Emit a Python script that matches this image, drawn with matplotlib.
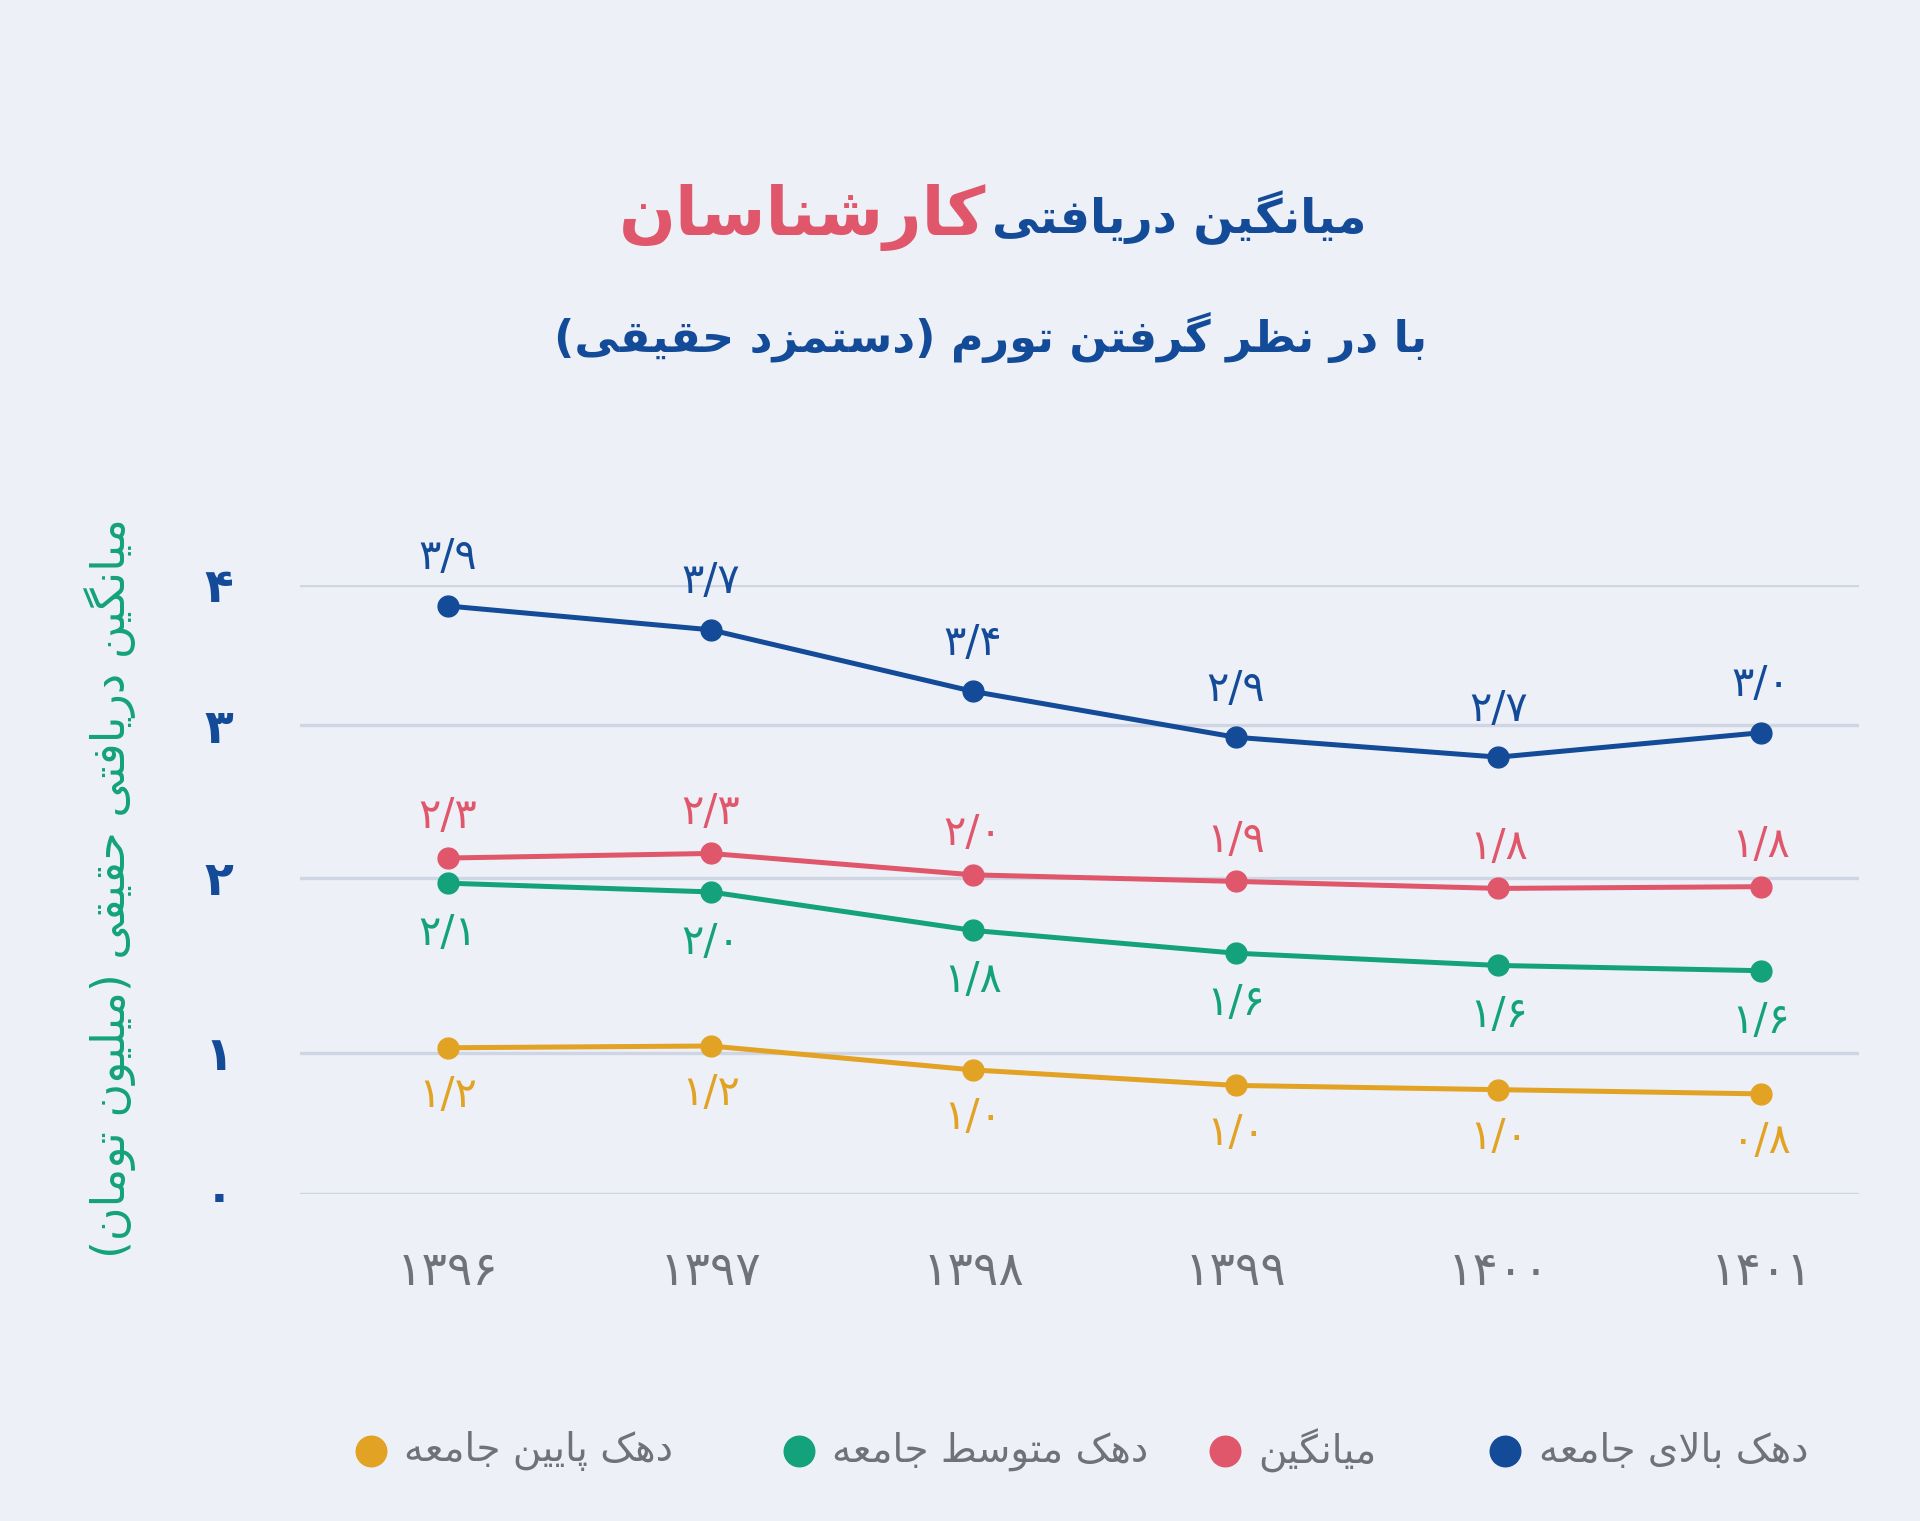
import numpy as np
import matplotlib
matplotlib.use("Agg")
import matplotlib.pyplot as plt
from matplotlib.lines import Line2D

# --- data ---
years = ['۱۳۹۶', '۱۳۹۷', '۱۳۹۸', '۱۳۹۹', '۱۴۰۰', '۱۴۰۱']
y_ticks = [0, 1, 2, 3, 4]
y_tick_labels = ['۰', '۱', '۲', '۳', '۴']

top_decile = [3.85, 3.68, 3.24, 2.92, 2.79, 2.95]
average = [2.13, 2.16, 2.02, 1.98, 1.94, 1.95]
middle_decile = [1.97, 1.92, 1.70, 1.57, 1.50, 1.47]
bottom_decile = [1.03, 1.04, 0.88, 0.77, 0.74, 0.71]

top_labels = ['۳/۹', '۳/۷', '۳/۴', '۲/۹', '۲/۷', '۳/۰']
average_labels = ['۲/۳', '۲/۳', '۲/۰', '۱/۹', '۱/۸', '۱/۸']
middle_labels = ['۲/۱', '۲/۰', '۱/۸', '۱/۶', '۱/۶', '۱/۶']
bottom_labels = ['۱/۲', '۱/۲', '۱/۰', '۱/۰', '۱/۰', '۰/۸']

names = ['دهک بالای جامعه', 'میانگین', 'دهک متوسط جامعه', 'دهک پایین جامعه']

BLUE = '#134b98'
RED = '#e0566a'
GREEN = '#13a27c'
YELLOW = '#e2a224'
BG = '#edf0f7'
GRID = '#cfd5e2'
GRAY = '#6f717b'

# --- tiny persian shaper (matplotlib has no arabic shaping / bidi) ---
DUAL = {
    'ب': 'ﺏﺐﺑﺒ', 'پ': 'ﭖﭗﭘﭙ', 'ت': 'ﺕﺖﺗﺘ', 'ث': 'ﺙﺚﺛﺜ', 'ج': 'ﺝﺞﺟﺠ',
    'چ': 'ﭺﭻﭼﭽ', 'ح': 'ﺡﺢﺣﺤ', 'خ': 'ﺥﺦﺧﺨ', 'س': 'ﺱﺲﺳﺴ', 'ش': 'ﺵﺶﺷﺸ',
    'ص': 'ﺹﺺﺻﺼ', 'ض': 'ﺽﺾﺿﻀ', 'ط': 'ﻁﻂﻃﻄ', 'ظ': 'ﻅﻆﻇﻈ', 'ع': 'ﻉﻊﻋﻌ',
    'غ': 'ﻍﻎﻏﻐ', 'ف': 'ﻑﻒﻓﻔ', 'ق': 'ﻕﻖﻗﻘ', 'ک': 'ﮎﮏﮐﮑ', 'گ': 'ﮒﮓﮔﮕ',
    'ل': 'ﻝﻞﻟﻠ', 'م': 'ﻡﻢﻣﻤ', 'ن': 'ﻥﻦﻧﻨ', 'ه': 'ﻩﻪﻫﻬ', 'ی': 'ﯼﯽﯾﯿ',
}
RIGHT = {
    'ا': 'ﺍﺎ', 'آ': 'ﺁﺂ', 'د': 'ﺩﺪ', 'ذ': 'ﺫﺬ', 'ر': 'ﺭﺮ', 'ز': 'ﺯﺰ',
    'ژ': 'ﮊﮋ', 'و': 'ﻭﻮ',
}


def fa(text):
    text = text.replace('\u064a', 'ی').replace('\u0643', 'ک')
    out = []
    i = 0
    while i < len(text):
        c = text[i]
        prev = text[i - 1] if i > 0 else ''
        nxt = text[i + 1] if i + 1 < len(text) else ''
        joins_prev = prev in DUAL
        if c == 'ل' and nxt == 'ا':
            out.append('ﻼ' if joins_prev else 'ﻻ')
            i += 2
            continue
        if c in DUAL:
            joins_next = nxt in DUAL or nxt in RIGHT
            f = DUAL[c]
            out.append(f[3] if joins_prev and joins_next else f[1] if joins_prev
                       else f[2] if joins_next else f[0])
        elif c in RIGHT:
            out.append(RIGHT[c][1] if joins_prev else RIGHT[c][0])
        else:
            out.append(c)
        i += 1
    swap = {'(': ')', ')': '('}
    return ''.join(swap.get(ch, ch) for ch in reversed(out))


# uneven grid spacing as drawn in the original
grid_vals = [-1, 0, 1, 2, 3, 4, 5]
grid_pos = [-1, 0, 0.926, 2.076, 3.08, 4, 5]


def fwd(v):
    return np.interp(v, grid_vals, grid_pos)


def inv(p):
    return np.interp(p, grid_pos, grid_vals)


plt.rcParams['font.family'] = ['DejaVu Sans']

fig = plt.figure(figsize=(19.2, 15.21), dpi=100, facecolor=BG)
ax = fig.add_axes([0.15625, 0.2150, 0.8120, 0.4004])
ax.set_facecolor(BG)
ax.set_yscale('function', functions=(fwd, inv))

x = np.arange(len(years))
series = [
    (top_decile, top_labels, BLUE, 35),
    (average, average_labels, RED, 30),
    (middle_decile, middle_labels, GREEN, -36),
    (bottom_decile, bottom_labels, YELLOW, -34),
]
for vals, labels, color, off in series:
    ax.plot(x, vals, color=color, lw=3.6, marker='o', markersize=15, zorder=3)
    for xi, v, lab in zip(x, vals, labels):
        ax.annotate(lab, (xi, v), xytext=(0, off), textcoords='offset points',
                    ha='center', va='center', fontsize=30, color=color,
                    annotation_clip=False)

ax.set_xlim(-0.563, 5.373)
ax.set_ylim(0, 4)
ax.set_yticks(y_ticks)
ax.set_yticklabels(y_tick_labels, fontsize=34, fontweight='bold', color=BLUE)
ax.set_xticks(x)
ax.set_xticklabels(years, fontsize=34, color=GRAY)
ax.tick_params(axis='y', length=0, pad=48)
ax.tick_params(axis='x', length=0, pad=40)
ax.grid(axis='y', color=GRID, lw=2.4)
ax.grid(axis='x', visible=False)
for s in ax.spines.values():
    s.set_visible(False)

fig.text(0.0575, 0.416, fa('میانگین دریافتی حقیقی (میلیون تومان)'), rotation=90,
         ha='center', va='center', fontsize=33, color=GREEN)

# title
fig.text(0.5135, 0.857, fa('کارشناسان'), ha='right', va='center', fontsize=48,
         fontweight='bold', color=RED)
fig.text(0.5165, 0.857, fa('میانگین دریافتی'), ha='left', va='center', fontsize=34,
         fontweight='bold', color=BLUE)
fig.text(0.516, 0.778, fa('با در نظر گرفتن تورم (دستمزد حقیقی)'), ha='center',
         va='center', fontsize=32, fontweight='bold', color=BLUE)

# legend, laid out left to right like the original
legend_items = [(names[3], YELLOW, 0.193), (names[2], GREEN, 0.416),
                (names[1], RED, 0.638), (names[0], BLUE, 0.784)]
for name, color, xd in legend_items:
    fig.add_artist(Line2D([xd], [0.046], marker='o', markersize=22, color=color,
                          transform=fig.transFigure))
    fig.text(xd + 0.0175, 0.046, fa(name), ha='left', va='center', fontsize=28,
             color=GRAY)

fig.savefig('out.png', dpi=100, facecolor=BG)
